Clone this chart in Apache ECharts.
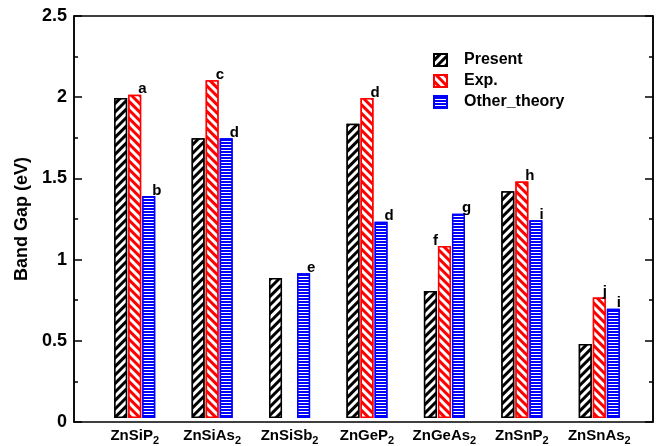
<!DOCTYPE html>
<html>
<head>
<meta charset="utf-8">
<script src="https://cdn.jsdelivr.net/npm/echarts@6/dist/echarts.min.js"></script>
<style>html,body{margin:0;padding:0;background:#fff}#c{width:660px;height:446px}</style>
</head>
<body>
<div id="c"></div>
<script>
var categories = ['ZnSiP2', 'ZnSiAs2', 'ZnSiSb2', 'ZnGeP2', 'ZnGeAs2', 'ZnSnP2', 'ZnSnAs2'];
var present = [1.99, 1.74, 0.87, 1.83, 0.79, 1.41, 0.46];
var exp = [2.01, 2.10, null, 1.99, 1.07, 1.47, 0.75];
var other = [1.38, 1.74, 0.90, 1.22, 1.27, 1.23, 0.68];
var expNotes = ['a', 'c', '', 'd', 'f', 'h', 'j'];
var otherNotes = ['b', 'd', 'e', 'd', 'g', 'i', 'i'];
var yTicks = [0, 0.5, 1, 1.5, 2, 2.5];

var FONT = '"Liberation Sans", Arial, Helvetica, sans-serif';
var chart = echarts.init(document.getElementById('c'), null, {renderer: 'canvas'});

// notes that sit to the upper-left of their bar instead of the upper-right
var leftNotes = {'Exp.': {4: true}};

function buildData(values, seriesName) {
  return values.map(function (v, i) {
    var item = {value: v};
    if (leftNotes[seriesName] && leftNotes[seriesName][i]) {
      item.label = {position: [-5, 2]};
    }
    return item;
  });
}

function noteLabel(notes) {
  return {
    show: true,
    position: [10, 2],
    align: 'left',
    verticalAlign: 'bottom',
    fontFamily: FONT,
    fontWeight: 'bold',
    fontSize: 15,
    color: '#000',
    formatter: function (p) { return notes[p.dataIndex]; }
  };
}

var yAxisCommon = {
  type: 'value', min: 0, max: 2.5, interval: 0.5,
  splitLine: {show: false},
  axisLine: {show: true, lineStyle: {color: '#000', width: 1.5}},
  axisTick: {show: true, inside: true, length: 8, lineStyle: {color: '#000', width: 1.5}},
  minorTick: {show: true, splitNumber: 2, length: 4, lineStyle: {color: '#000', width: 1.5}}
};

chart.setOption({
  animation: false,
  backgroundColor: '#fff',
  grid: [
    {left: 74, right: 7, top: 16, bottom: 24, show: true, borderColor: '#000', borderWidth: 1.5, backgroundColor: 'transparent'},
    {left: 96, right: 22, top: 16, bottom: 24}
  ],
  legend: {
    orient: 'vertical',
    left: 428, top: 47,
    itemWidth: 13, itemHeight: 12, itemGap: 5,
    icon: 'rect',
    textStyle: {fontFamily: FONT, fontWeight: 'bold', fontSize: 16, color: '#000', lineHeight: 15, padding: [0, 0, 0, 12]},
    data: ['Present', 'Exp.', 'Other_theory']
  },
  xAxis: [
    {type: 'value', gridIndex: 0, min: 0, max: 1, show: false},
    {
      type: 'category', gridIndex: 1, data: categories,
      axisLine: {show: false}, axisTick: {show: false},
      axisLabel: {
        interval: 0,
        margin: 8,
        formatter: function (v) {
          return '{b|' + v.slice(0, -1) + '}{s|' + v.slice(-1) + '}';
        },
        rich: {
          b: {fontFamily: FONT, fontWeight: 'bold', fontSize: 15, color: '#000'},
          s: {fontFamily: FONT, fontWeight: 'bold', fontSize: 11, color: '#000', padding: [9, 0, 0, 0]}
        }
      }
    }
  ],
  yAxis: [
    Object.assign({}, yAxisCommon, {
      gridIndex: 0, position: 'left',
      name: 'Band Gap (eV)', nameLocation: 'middle', nameGap: 36,
      nameTextStyle: {fontFamily: FONT, fontWeight: 'bold', fontSize: 18, color: '#000'},
      axisLabel: {
        fontFamily: FONT, fontWeight: 'bold', fontSize: 18, color: '#000', margin: 7,
        formatter: function (v) { return yTicks.indexOf(v) >= 0 ? String(v) : ''; }
      }
    }),
    Object.assign({}, yAxisCommon, {gridIndex: 0, position: 'right', axisLabel: {show: false}}),
    {type: 'value', gridIndex: 1, min: 0, max: 2.5, show: false}
  ],
  series: [
    {
      name: 'Present', type: 'bar', xAxisIndex: 1, yAxisIndex: 2,
      barWidth: 13, barGap: '8%',
      data: buildData(present, 'Present'),
      itemStyle: {
        color: '#000', borderColor: '#000', borderWidth: 1.5,
        decal: {symbol: 'rect', symbolSize: 1, dashArrayX: [1, 0], dashArrayY: [2.5, 2.5], rotation: -Math.PI / 4, color: '#fff'}
      }
    },
    {
      name: 'Exp.', type: 'bar', xAxisIndex: 1, yAxisIndex: 2,
      barWidth: 13, barGap: '8%',
      data: buildData(exp, 'Exp.'),
      label: noteLabel(expNotes),
      itemStyle: {
        color: '#ff0000', borderColor: '#ff0000', borderWidth: 1.5,
        decal: {symbol: 'rect', symbolSize: 1, dashArrayX: [1, 0], dashArrayY: [2.5, 2.5], rotation: Math.PI / 4, color: '#fff'}
      }
    },
    {
      name: 'Other_theory', type: 'bar', xAxisIndex: 1, yAxisIndex: 2,
      barWidth: 13, barGap: '8%',
      data: buildData(other, 'Other_theory'),
      label: noteLabel(otherNotes),
      itemStyle: {
        color: '#0000ff', borderColor: '#0000ff', borderWidth: 1.5,
        decal: {symbol: 'rect', symbolSize: 1, dashArrayX: [1, 0], dashArrayY: [1, 2], rotation: 0, color: '#fff'}
      }
    }
  ]
});
</script>
</body>
</html>
